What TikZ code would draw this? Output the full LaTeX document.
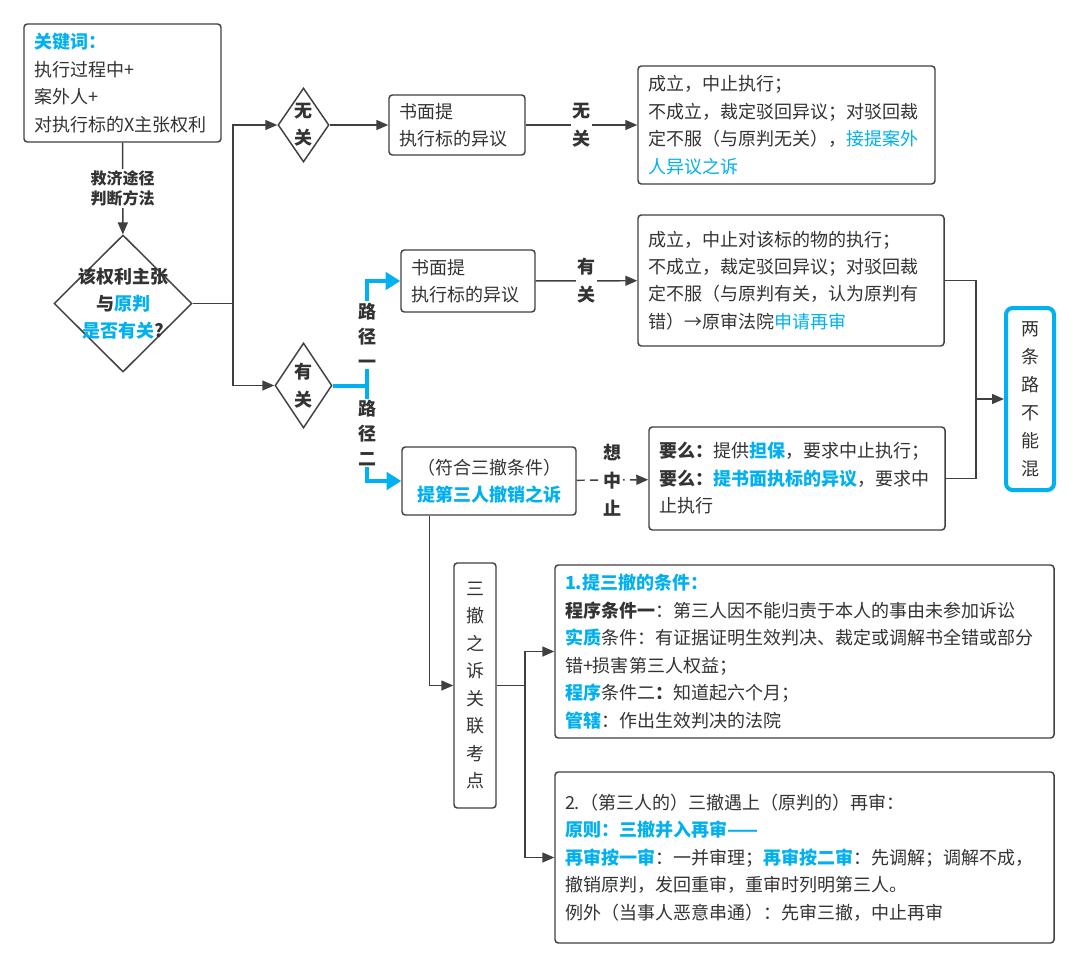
\documentclass[tikz,border=0pt]{standalone}
\usepackage{fontspec}
\setmainfont{Noto Sans CJK SC}
\usetikzlibrary{shapes.geometric,arrows.meta}

\definecolor{linegray}{HTML}{404040}
\definecolor{txtgray}{HTML}{333333}
\definecolor{keyblue}{HTML}{00B0F0}
\newcommand{\hl}[1]{\textcolor{keyblue}{#1}}
\newcommand{\hlb}[1]{\textcolor{keyblue}{\textbf{#1}}}

\tikzset{
  body/.style={font=\fontsize{13.5pt}{20.6pt}\selectfont, text=txtgray},
  box/.style={body, draw=linegray, line width=1.1pt, rounded corners=2.5pt,
    inner xsep=7.5pt, inner ysep=0pt, align=left},
  dia/.style={diamond, draw=linegray, line width=1.1pt, inner sep=0pt},
  diatext/.style={font=\bfseries\fontsize{13.5pt}{20.5pt}\selectfont, text=txtgray, align=center},
  wire/.style={draw=linegray, line width=1.1pt},
  conn/.style={wire, -{Triangle[length=9pt,width=7.5pt]}},
  onlab/.style={fill=white, inner sep=1pt, text=txtgray, align=center,
    font=\bfseries\fontsize{13.5pt}{21pt}\selectfont},
  pathlab/.style={onlab, font=\bfseries\fontsize{13.5pt}{18.75pt}\selectfont},
  bluepath/.style={draw=keyblue, line width=3pt},
  bluearrow/.style={bluepath, -{Triangle[length=11pt,width=13pt]}},
}

\begin{document}
\begin{tikzpicture}[x=0.75pt,y=-0.75pt]
  \useasboundingbox[fill=white] (0,0) rectangle (1080,970);

  \node[box, text width=132.75pt, minimum height=88.5pt] (keyw) at (122.5,83)
    {\hlb{关键词：}\\执行过程中+\\案外人+\\对执行标的X主张权利};
  \node[dia, minimum width=103.5pt, minimum height=102.75pt,
    label={[diatext]center:{该权利主张\\与\hl{原判}\\\hl{是否有关}?}}] (related) at (123,303.5) {};
  \node[dia, minimum width=38.25pt, minimum height=55.5pt,
    label={[diatext]center:{无\\关}}] (norel) at (303.5,125) {};
  \node[dia, minimum width=42.75pt, minimum height=63.75pt,
    label={[diatext]center:{有\\关}}] (hasrel) at (303.5,385.5) {};

  \node[box, text width=87pt, minimum height=45pt] (objA) at (457,125) {书面提\\执行标的异议};
  \node[box, text width=207.75pt, minimum height=88.5pt] (resA) at (786.5,125)
    {成立，中止执行；\\不成立，裁定驳回异议；对驳回裁\\定不服（与原判无关），\hl{接提案外}\\\hl{人异议之诉}};

  \node[box, text width=85.5pt, minimum height=46.5pt] (objB) at (468,281) {书面提\\执行标的异议};
  \node[box, text width=214.5pt, minimum height=98.25pt] (resB) at (791,280.5)
    {成立，中止对该标的物的执行；\\不成立，裁定驳回异议；对驳回裁\\定不服（与原判有关，认为原判有\\错）→原审法院\hl{申请再审}};

  \node[box, align=center, text width=115.5pt, minimum height=51pt] (suit) at (489,481)
    {（符合三撤条件）\\\hlb{提第三人撤销之诉}};
  \node[box, text width=207pt, minimum height=77.25pt] (either) at (797,478.5)
    {\textbf{要么：}提供\hlb{担保}，要求中止执行；\\\textbf{要么：}\hlb{提书面执标的异议}，要求中\\止执行};

  \node[box, draw=keyblue, line width=3pt, rounded corners=5pt, align=center, inner xsep=0pt,
    font=\fontsize{13.5pt}{21pt}\selectfont, minimum width=36pt, minimum height=136.5pt] (nomix)
    at (1030,399) {两\\条\\路\\不\\能\\混};

  \node[box, align=center, inner xsep=0pt, minimum width=31.5pt, minimum height=183.75pt] (topics)
    at (475,685.5) {三\\撤\\之\\诉\\关\\联\\考\\点};
  \node[box, text width=359.25pt, minimum height=129.75pt] (cond) at (804.5,651.5)
    {\hlb{1.提三撤的条件：}\\\textbf{程序条件一}：第三人因不能归责于本人的事由未参加诉讼\\\hlb{实质}条件：有证据证明生效判决、裁定或调解书全错或部分\\错+损害第三人权益；\\\hlb{程序}条件二\textbf{：}知道起六个月；\\\hlb{管辖}：作出生效判决的法院};
  \node[box, text width=359.25pt, minimum height=128.25pt] (retrial) at (804.5,857.5)
    {2.（第三人的）三撤遇上（原判的）再审：\\\hlb{原则：三撤并入再审——}\\\hlb{再审按一审}：一并审理；\hlb{再审按二审}：先调解；调解不成，\\撤销原判，发回重审，重审时列明第三人。\\例外（当事人恶意串通）：先审三撤，中止再审};

  \coordinate (split) at (233,303.5);
  \coordinate (fork) at (367,385.5);
  \coordinate (merge) at (976,399);
  \coordinate (branch) at (525,685.5);

  \draw[conn] (keyw) -- (related) node[midway, onlab, font=\bfseries\fontsize{12pt}{15pt}\selectfont]
    {救济途径\\判断方法};
  \draw[wire] (related.east) -- (split);
  \draw[conn] (split) |- (norel.west);
  \draw[conn] (split) |- (hasrel.west);
  \draw[conn] (norel) -- (objA);
  \draw[conn] (objA) -- (resA) node[midway, onlab] {无\\关};
  \draw[conn] (objB) -- (resB) node[midway, onlab] {有\\关};

  \draw[bluepath] (hasrel.east) -- (fork);
  \draw[bluearrow] (fork) |- (objB.west) node[pos=0.24, pathlab] {路\\径\\一};
  \draw[bluearrow] (fork) |- (suit.west) node[pos=0.25, pathlab] {路\\径\\二};

  \draw[conn, dash pattern=on 6pt off 4pt] (suit) -- (either) node[midway, onlab] {想\\中\\止};
  \draw[wire] (resB.east) -| (merge);
  \draw[wire] (either.east) -| (merge);
  \draw[conn] (merge) -- (nomix);

  \draw[conn] ([xshift=21pt]suit.south west) |- (topics.west);
  \draw[wire] (topics.east) -- (branch);
  \draw[conn] (branch) |- (cond.west);
  \draw[conn] (branch) |- (retrial.west);

\end{tikzpicture}
\end{document}
